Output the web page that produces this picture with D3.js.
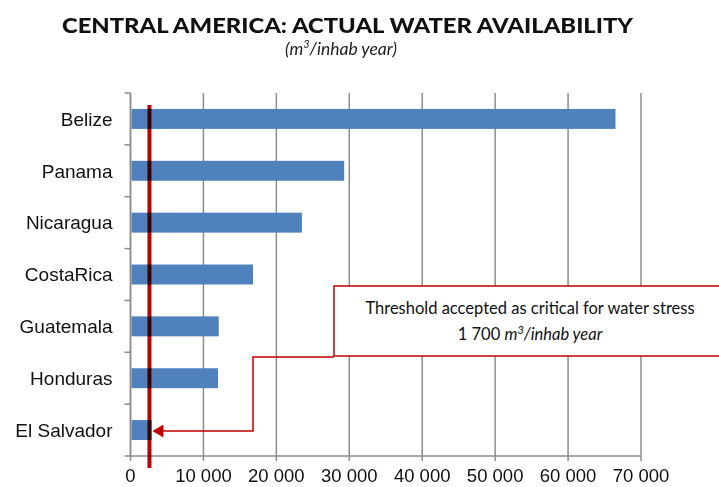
<!DOCTYPE html>
<html>
<head>
<meta charset="utf-8">
<script src="https://cdn.jsdelivr.net/npm/d3@7"></script>
<style>
  body { margin: 0; background: #fff; }
  svg { display: block; }
</style>
</head>
<body>
<div class="viz"></div>
<script>
// countries, top to bottom
const countries = ['Belize', 'Panama', 'Nicaragua', 'CostaRica', 'Guatemala', 'Honduras', 'El Salvador'];
// water availability, m3 per inhabitant per year
const availability = [66500, 29300, 23500, 16800, 12100, 12000, 2900];
const xTicks = [0, 10000, 20000, 30000, 40000, 50000, 60000, 70000];
// where the red threshold line sits on the picture
const thresholdLine = [2600];

const width = 719;
const height = 487;
const margin = { top: 93, right: 77, bottom: 31, left: 130.5 };
const innerWidth = width - margin.left - margin.right;
const innerHeight = height - margin.top - margin.bottom;

const red = '#c00000';
const grey = '#8c8c8c';
const gill = 'Lato, "Open Sans", sans-serif';
const arial = '"Liberation Sans", Arial, sans-serif';

const svg = d3.select('.viz')
  .append('svg')
  .attr('width', width)
  .attr('height', height);

// title and unit
svg.append('text')
  .attr('x', 62)
  .attr('y', 33)
  .attr('font-family', gill)
  .attr('font-weight', 900)
  .attr('font-size', 21.5)
  .attr('textLength', 571)
  .attr('lengthAdjust', 'spacingAndGlyphs')
  .attr('fill', '#111')
  .text('CENTRAL AMERICA: ACTUAL WATER AVAILABILITY');

const sub = svg.append('text')
  .attr('x', 341)
  .attr('y', 55)
  .attr('text-anchor', 'middle')
  .attr('font-family', gill)
  .attr('font-style', 'italic')
  .attr('font-size', 17.5)
  .attr('fill', '#222');
sub.append('tspan').text('(m');
sub.append('tspan').attr('font-size', 11).attr('dy', -7).text('3');
sub.append('tspan').attr('dy', 7).text('/inhab year)');

// scales work in page coordinates so labels need no group transform
const xScale = d3.scaleLinear()
  .domain([0, 70000])
  .range([margin.left, width - margin.right - 1]);

const yScale = d3.scaleBand()
  .domain(countries)
  .range([margin.top, height - margin.bottom])
  .paddingInner(0.615)
  .paddingOuter(0.3075);

const bottom = height - margin.bottom;

// vertical grid lines, running into the tick marks below the axis
svg.append('g')
  .selectAll('line')
  .data(xTicks)
  .join('line')
  .attr('x1', d => xScale(d))
  .attr('x2', d => xScale(d))
  .attr('y1', margin.top)
  .attr('y2', bottom + 5)
  .attr('stroke', grey)
  .attr('stroke-width', 1.5);

// x axis line and labels
svg.append('line')
  .attr('x1', xScale(0))
  .attr('x2', xScale(70000))
  .attr('y1', bottom)
  .attr('y2', bottom)
  .attr('stroke', grey)
  .attr('stroke-width', 1.5);

const fmt = d => d3.format(',')(d).replace(',', ' ');
svg.append('g')
  .selectAll('text')
  .data(xTicks)
  .join('text')
  .attr('x', d => xScale(d))
  .attr('y', bottom + 26)
  .attr('text-anchor', 'middle')
  .attr('font-family', arial)
  .attr('font-size', 18.5)
  .attr('fill', '#111')
  .text(fmt);

// y axis, ticks sit between the categories
const step = yScale.step();
svg.append('g')
  .selectAll('line')
  .data(d3.range(countries.length + 1))
  .join('line')
  .attr('x1', margin.left - 6)
  .attr('x2', margin.left)
  .attr('y1', i => margin.top + i * step)
  .attr('y2', i => margin.top + i * step)
  .attr('stroke', grey)
  .attr('stroke-width', 1.5);

svg.append('line')
  .attr('x1', margin.left)
  .attr('x2', margin.left)
  .attr('y1', margin.top)
  .attr('y2', bottom)
  .attr('stroke', grey)
  .attr('stroke-width', 1.5);

svg.append('g')
  .selectAll('text')
  .data(countries)
  .join('text')
  .attr('x', margin.left - 18)
  .attr('y', d => yScale(d) + yScale.bandwidth() / 2)
  .attr('dy', '0.36em')
  .attr('text-anchor', 'end')
  .attr('font-family', arial)
  .attr('font-size', 19)
  .attr('fill', '#111')
  .text(d => d);

// bars
svg.append('g')
  .selectAll('rect')
  .data(countries.map((c, i) => ({ c, v: availability[i] })))
  .join('rect')
  .attr('x', xScale(0) + 1)
  .attr('y', d => yScale(d.c))
  .attr('width', d => xScale(d.v) - xScale(0) - 1)
  .attr('height', yScale.bandwidth())
  .attr('fill', '#4f81bd');

// threshold line
svg.selectAll('.threshold')
  .data(thresholdLine)
  .join('line')
  .attr('class', 'threshold')
  .attr('x1', d => xScale(d))
  .attr('x2', d => xScale(d))
  .attr('y1', margin.top + 12)
  .attr('y2', bottom + 12)
  .attr('stroke', red)
  .attr('stroke-width', 4)
  .style('mix-blend-mode', 'multiply');

// callout box
const boxX = 334;
const boxY = 286;
svg.append('rect')
  .attr('x', boxX)
  .attr('y', boxY)
  .attr('width', 400)
  .attr('height', 70)
  .attr('fill', '#fff')
  .attr('stroke', red)
  .attr('stroke-width', 1.5);

const boxText = svg.append('g')
  .attr('font-family', gill)
  .attr('font-size', 16.5)
  .attr('fill', '#111')
  .attr('text-anchor', 'middle');
boxText.append('text')
  .attr('x', 530)
  .attr('y', 314)
  .text('Threshold accepted as critical for water stress');
const line2 = boxText.append('text')
  .attr('x', 530)
  .attr('y', 340);
line2.append('tspan').text('1 700 ');
line2.append('tspan').attr('font-style', 'italic').text('m');
line2.append('tspan').attr('font-style', 'italic').attr('font-size', 11).attr('dy', -6).text('3');
line2.append('tspan').attr('font-style', 'italic').attr('dy', 6).text('/inhab year');

// connector with arrow pointing at El Salvador
const arrowY = yScale('El Salvador') + yScale.bandwidth() / 2 + 1;
const tipX = xScale(thresholdLine[0]) + 3;
svg.append('path')
  .attr('d', `M${boxX},357 H253 V${arrowY} H${tipX + 8}`)
  .attr('fill', 'none')
  .attr('stroke', red)
  .attr('stroke-width', 1.5);
svg.append('path')
  .attr('d', `M${tipX},${arrowY} L${tipX + 11},${arrowY - 6.5} L${tipX + 11},${arrowY + 6.5} Z`)
  .attr('fill', red);
</script>
</body>
</html>
